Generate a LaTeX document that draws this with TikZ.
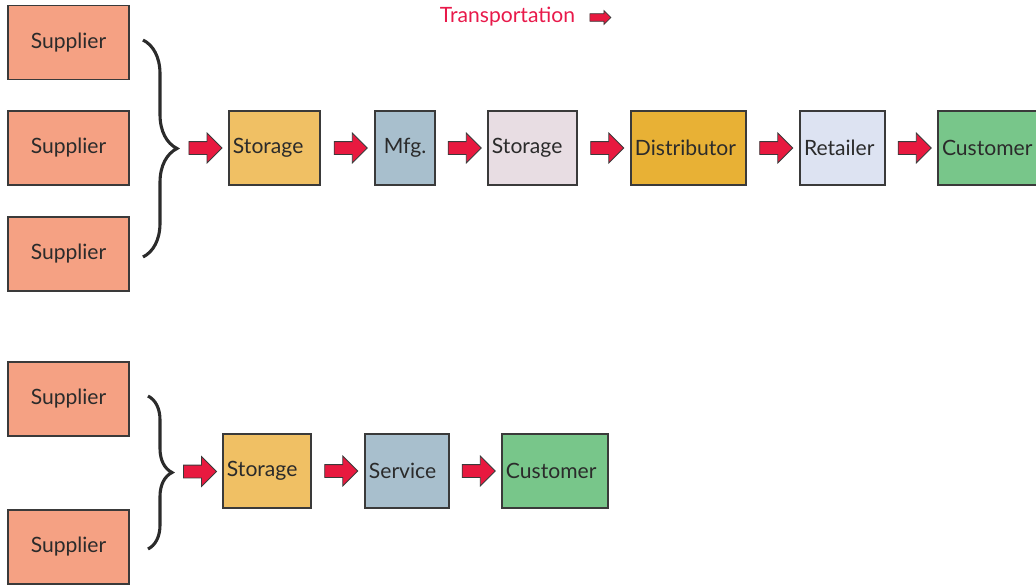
\documentclass[tikz,border=0pt]{standalone}
\usepackage{fontspec}
\setmainfont{Lato}
\usepackage{xcolor}
\usepackage{tikz}
\usetikzlibrary{arrows.meta, positioning, calc, shapes.arrows, decorations.pathreplacing}
\definecolor{chaintext}{HTML}{2B2B2B}
\definecolor{chainline}{HTML}{3A3A3A}
\definecolor{chainred}{HTML}{E8193F}
\definecolor{chainpink}{HTML}{E8194A}
\definecolor{supplierfill}{HTML}{F5A183}
\definecolor{storagefill}{HTML}{F0C064}
\definecolor{mfgfill}{HTML}{A8BFCD}
\definecolor{storagelight}{HTML}{E8DDE3}
\definecolor{distfill}{HTML}{E8B135}
\definecolor{retailfill}{HTML}{DDE3F2}
\definecolor{customerfill}{HTML}{78C68A}
\tikzset{
  stage/.style={draw=chainline, line width=0.8pt, minimum height=1.85cm, inner xsep=0.1cm,
    font=\fontsize{15}{17}\selectfont, text=chaintext, align=left},
  flowarrow/.style={single arrow, draw=chainline, fill=chainred, line width=0.6pt,
    inner xsep=0pt, inner ysep=0.15cm, minimum height=0.825cm, single arrow head extend=0.2125cm},
  curly/.style={decorate, decoration={brace, amplitude=#1}, line width=2.2pt, draw=chaintext}
}
\begin{document}
\begin{tikzpicture}[x=0.025cm, y=-0.025cm]
  \useasboundingbox (0,0) rectangle (1036,585);
  % legend
  \node[font=\fontsize{15}{17}\selectfont, text=chainpink] (legend) at (507.5,17) {Transportation};
  \node[flowarrow, inner ysep=0.085cm, minimum height=0.525cm, single arrow head extend=0.08cm, line width=0.5pt] (legendarrow) at (598.5,17.5) {};

  % manufacturing chain
  \node[stage, fill=supplierfill, text width=2.825cm, align=center] (sup1) at (68.5,42.5) {Supplier};
  \node[stage, fill=supplierfill, text width=2.825cm, align=center] (sup2) at (68.5,148) {Supplier};
  \node[stage, fill=supplierfill, text width=2.825cm, align=center] (sup3) at (68.5,254) {Supplier};
  \draw[curly=0.85cm] (143,40) -- (143,257);
  \coordinate (tip) at (176,148);
  \node[stage, fill=storagefill, text width=2.075cm] (sto1) at (274.5,148) {Storage};
  \node[stage, fill=mfgfill, text width=1.3cm, align=center] (mfg) at (405,148) {Mfg.};
  \node[stage, fill=storagelight, text width=2.025cm] (sto2) at (532.5,148) {Storage};
  \node[stage, fill=distfill, text width=2.675cm] (dist) at (688.5,148) {Distributor};
  \node[stage, fill=retailfill, text width=1.925cm] (ret) at (842.5,148) {Retailer};
  \node[stage, fill=customerfill, text width=2.275cm] (cust) at (987.5,148) {Customer};
  \node[flowarrow] (a1) at ($(tip)!0.5!(sto1.west)$) {};
  \node[flowarrow] (a2) at ($(sto1.east)!0.5!(mfg.west)$) {};
  \node[flowarrow] (a3) at ($(mfg.east)!0.5!(sto2.west)$) {};
  \node[flowarrow] (a4) at ($(sto2.east)!0.5!(dist.west)$) {};
  \node[flowarrow] (a5) at ($(dist.east)!0.5!(ret.west)$) {};
  \node[flowarrow] (a6) at ($(ret.east)!0.5!(cust.west)$) {};

  % service chain
  \node[stage, fill=supplierfill, text width=2.825cm, align=center] (bsup1) at (68.5,399) {Supplier};
  \node[stage, fill=supplierfill, text width=2.825cm, align=center] (bsup2) at (68.5,547) {Supplier};
  \draw[curly=0.6cm] (148,396) -- (148,549);
  \coordinate (btip) at (171,472);
  \node[stage, fill=storagefill, text width=2cm] (bsto) at (267,471) {Storage};
  \node[stage, fill=mfgfill, text width=1.9cm] (serv) at (407,471) {Service};
  \node[stage, fill=customerfill, text width=2.45cm] (bcust) at (555,471) {Customer};
  \node[flowarrow] (b1) at ($(btip)!0.5!(bsto.west)$) {};
  \node[flowarrow] (b2) at ($(bsto.east)!0.5!(serv.west)$) {};
  \node[flowarrow] (b3) at ($(serv.east)!0.5!(bcust.west)$) {};
\end{tikzpicture}
\end{document}
